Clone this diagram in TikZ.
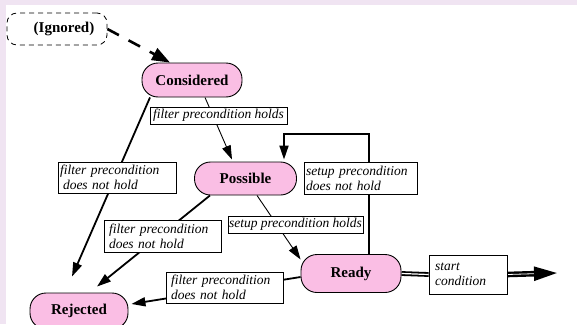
\documentclass[tikz,border=0pt]{standalone}
\usepackage{fontspec}
\setmainfont{Liberation Serif}
\usetikzlibrary{arrows.meta}
\pgfdeclarelayer{bg}
\pgfdeclarelayer{edges}
\pgfsetlayers{bg,edges,main}
\definecolor{lav}{RGB}{240,228,242}
\definecolor{statepink}{RGB}{250,190,228}
\tikzset{
  state/.style={draw=black, line width=0.9pt, fill=statepink, rounded corners=16pt,
    font=\fontsize{15pt}{17pt}\selectfont\bfseries, inner sep=0pt},
  lbl/.style={draw=black, line width=0.8pt, fill=white, inner xsep=2pt, inner ysep=1pt,
    font=\fontsize{13.5pt}{15pt}\selectfont\itshape, align=left},
  conn/.style={draw=black, line width=1.8pt, -{Triangle[length=14pt,width=9pt]}},
  thin conn/.style={draw=black, line width=0.9pt, -{Triangle[length=14pt,width=9pt]}},
}
\begin{document}
\begin{tikzpicture}[x=1pt,y=-1pt]
\useasboundingbox (0,0) rectangle (577,324);
\begin{pgfonlayer}{bg}
  \fill[lav] (0,0) rectangle (577,324);
  \fill[white] (6,5) rectangle (577,324);
\end{pgfonlayer}

% states
\node[draw=black, line width=0.8pt, dash pattern=on 5pt off 4pt, rounded corners=10pt,
      minimum width=100pt, minimum height=32pt, inner sep=0pt,
      font=\fontsize{15pt}{17pt}\selectfont\bfseries] (ig) at (57,29) {\hspace*{14pt}(Ignored)};
\node[state, minimum width=100pt, minimum height=34pt] (c) at (192,80) {Considered};
\node[state, minimum width=102pt, minimum height=33pt] (p) at (245.5,178.5) {Possible};
\node[state, minimum width=100pt, minimum height=38pt] (r) at (351,273.5) {Ready};
\node[state, minimum width=98pt, minimum height=36pt] (rj) at (79,311) {Rejected};

% labels
\node[lbl, inner xsep=1pt, minimum width=137pt, minimum height=17pt] (lh) at (218.5,115.5) {filter precondition holds};
\node[lbl, text width=114pt, minimum height=31pt] (l1) at (117,177.5) {filter precondition\\\hspace*{3pt}does not hold};
\node[lbl, text width=113pt, minimum height=32pt] (l2) at (162.5,236) {\hspace*{3pt}filter precondition\\\hspace*{3pt}does not hold};
\node[lbl, inner xsep=0.5pt, minimum width=135pt, minimum height=17pt] (l3) at (295.5,224.5) {setup precondition holds};
\node[lbl, text width=109pt, minimum height=32pt] (l4) at (360.5,178) {setup precondition\\does not hold};
\node[lbl, text width=113pt, minimum height=31pt] (l5) at (224.5,287.5) {\hspace*{3pt}filter precondition\\\hspace*{3pt}does not hold};
\node[lbl, text width=74pt, minimum height=39pt] (l6) at (468,274.5) {\hspace*{4pt}start\\\hspace*{4pt}condition};
\coordinate (out) at (557,273);

\begin{pgfonlayer}{edges}
  \draw[line width=2.6pt, dash pattern=on 13pt off 11pt, -{Triangle[length=18pt,width=13pt]}]
    (ig.east) -- ([xshift=-22pt]c.north);
  \draw[thin conn] ([xshift=13pt]c.south) -- ([xshift=-13.5pt,yshift=2pt]p.north);
  \draw[conn] ([xshift=-42pt]c.south) -- ([xshift=-7pt,yshift=16pt]rj.north);
  \draw[conn] ([xshift=-35.5pt]p.south) -- ([xshift=18pt,yshift=6pt]rj.north);
  \draw[thin conn] ([xshift=11.5pt]p.south) -- ([yshift=14pt]r.west);
  \draw[conn] ([xshift=18pt]r.north) -- ++(0,-120) -| ([xshift=38.5pt,yshift=2pt]p.north);
  \draw[conn] ([yshift=-3.5pt]r.west) -- ([xshift=3pt,yshift=7pt]rj.east);
  \draw[line width=1.8pt, double=white, double distance=1.2pt] (r.east) -- (l6.west);
  \draw[line width=2.4pt, double=white, double distance=0.8pt, -{Triangle[length=23pt,width=14pt]}] (l6.east) -- (out);
\end{pgfonlayer}
\end{tikzpicture}
\end{document}
